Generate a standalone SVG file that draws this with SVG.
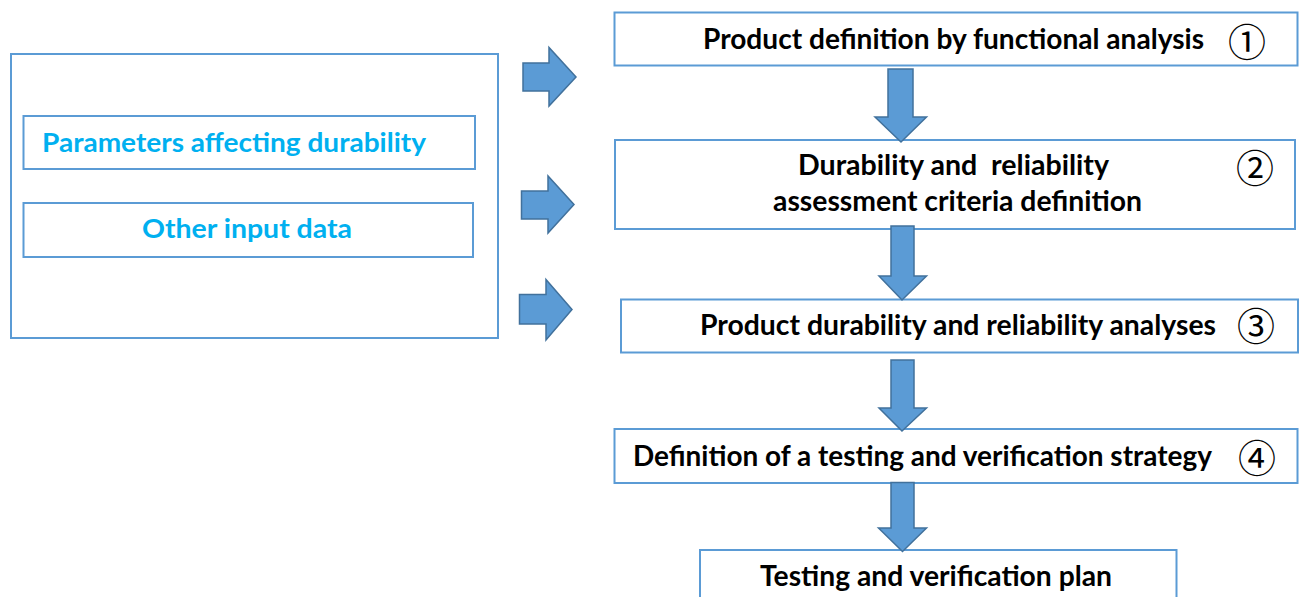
<svg xmlns="http://www.w3.org/2000/svg" width="1301" height="597" viewBox="0 0 1301 597">
  <style>
    .box { fill: #ffffff; stroke: #5B9BD5; stroke-width: 2; }
    .arrow { fill: #5B9BD5; stroke: #41719C; stroke-width: 1.5; stroke-linejoin: miter; }
    .lbl { font-family: Lato, "Liberation Sans", sans-serif; font-weight: 700; font-size: 28px; fill: #000000; white-space: pre; }
    .in { font-family: Lato, "Liberation Sans", sans-serif; font-weight: 700; font-size: 26px; fill: #00B0F0; }
    .num { font-family: "Noto Sans CJK JP", "DejaVu Sans", sans-serif; font-size: 38px; fill: #000000; text-anchor: middle; }
  </style>
  <rect width="1301" height="597" fill="#ffffff"/>

  <!-- input data panel -->
  <g id="inputs">
    <rect class="box" x="11" y="54" width="487" height="284"/>
  </g>
  <g id="params">
    <rect class="box" x="23.5" y="116" width="451.5" height="53"/>
    <text class="in" x="42" y="152" textLength="384" lengthAdjust="spacingAndGlyphs">Parameters affecting durability</text>
  </g>
  <g id="other-data">
    <rect class="box" x="23.5" y="203" width="449.5" height="54"/>
    <text class="in" x="142" y="238" textLength="210" lengthAdjust="spacingAndGlyphs">Other input data</text>
  </g>

  <!-- process steps -->
  <g id="step1">
    <rect class="box" x="614.5" y="12.5" width="683" height="53"/>
    <text class="lbl" x="703" y="49" textLength="501" lengthAdjust="spacingAndGlyphs">Product definition by functional analysis</text>
    <text class="num" x="1247" y="39" dominant-baseline="central">①</text>
  </g>
  <g id="step2">
    <rect class="box" x="615" y="140" width="680" height="89"/>
    <text class="lbl" x="798" y="175" textLength="311" lengthAdjust="spacingAndGlyphs">Durability and  reliability</text>
    <text class="lbl" x="773" y="211" textLength="369" lengthAdjust="spacingAndGlyphs">assessment criteria definition</text>
    <text class="num" x="1255" y="165" dominant-baseline="central">②</text>
  </g>
  <g id="step3">
    <rect class="box" x="621" y="299.5" width="677" height="53"/>
    <text class="lbl" x="700" y="335" textLength="516" lengthAdjust="spacingAndGlyphs">Product durability and reliability analyses</text>
    <text class="num" x="1256" y="323" dominant-baseline="central">③</text>
  </g>
  <g id="step4">
    <rect class="box" x="614.5" y="429" width="683" height="54"/>
    <text class="lbl" x="633" y="466" textLength="579" lengthAdjust="spacingAndGlyphs">Definition of a testing and verification strategy</text>
    <text class="num" x="1257" y="455" dominant-baseline="central">④</text>
  </g>
  <g id="plan">
    <rect class="box" x="700" y="550" width="476.5" height="60"/>
    <text class="lbl" x="760" y="586" textLength="352" lengthAdjust="spacingAndGlyphs">Testing and verification plan</text>
  </g>

  <!-- block arrows -->
  <g id="connectors">
    <path class="arrow" d="M523,63 H549 V47.5 L576,77 L549,106 V91 H523 Z"/>
    <path class="arrow" d="M521.5,191 H548 V176 L574,204.5 L548,233 V219 H521.5 Z"/>
    <path class="arrow" d="M519.5,294.5 H546 V279.5 L572,309.5 L546,340 V324 H519.5 Z"/>
    <path class="arrow" d="M888,69 H913 V117 H926.5 L901,142 L875,117 H888 Z"/>
    <path class="arrow" d="M891,226 H914 V276 H926.5 L902,300 L879,276 H891 Z"/>
    <path class="arrow" d="M891,360 H914 V408 H926.5 L902,431 L879,408 H891 Z"/>
    <path class="arrow" d="M891,482.5 H914 V528 H926.5 L902.5,551.5 L878.5,528 H891 Z"/>
  </g>
</svg>
